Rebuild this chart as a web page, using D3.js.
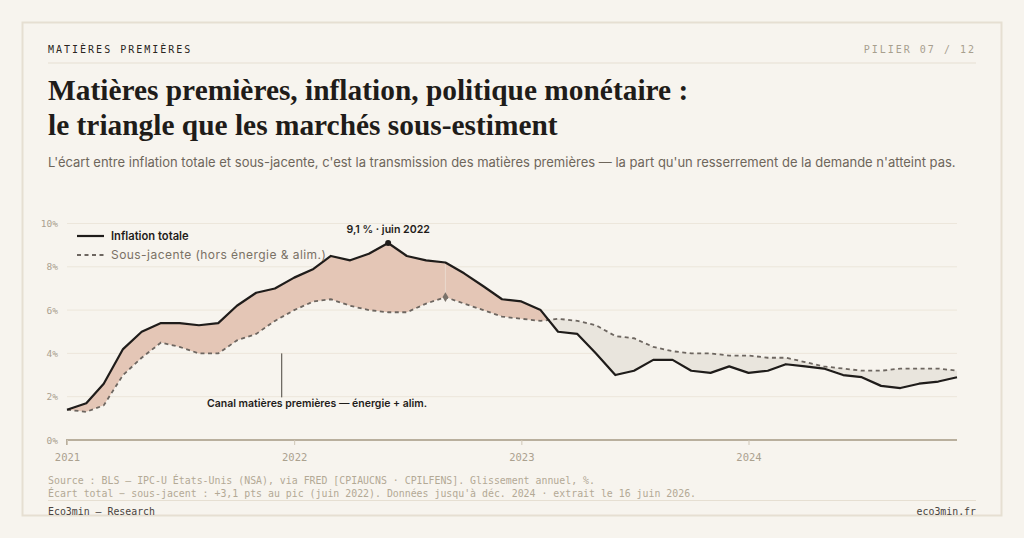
<!DOCTYPE html>
<html>
<head>
<meta charset="utf-8">
<script src="https://cdn.jsdelivr.net/npm/d3@7"></script>
<style>
	html, body { margin: 0; padding: 0; background: #f7f4ee; }
	svg { display: block; }
	.mono { font-family: "DejaVu Sans Mono", "Liberation Mono", monospace; }
	.sans { font-family: Inter, "Noto Sans", sans-serif; }
</style>
</head>
<body>
<svg id="chart"></svg>
<script>
// months, Jan 2021 -> Dec 2024
var months = [
	'2021-01','2021-02','2021-03','2021-04','2021-05','2021-06','2021-07','2021-08','2021-09','2021-10','2021-11','2021-12',
	'2022-01','2022-02','2022-03','2022-04','2022-05','2022-06','2022-07','2022-08','2022-09','2022-10','2022-11','2022-12',
	'2023-01','2023-02','2023-03','2023-04','2023-05','2023-06','2023-07','2023-08','2023-09','2023-10','2023-11','2023-12',
	'2024-01','2024-02','2024-03','2024-04','2024-05','2024-06','2024-07','2024-08','2024-09','2024-10','2024-11','2024-12'
];

// CPI-U headline, YoY %
var totale = [
	1.4, 1.7, 2.6, 4.2, 5.0, 5.4, 5.4, 5.3, 5.4, 6.2, 6.8, 7.0,
	7.5, 7.9, 8.5, 8.3, 8.6, 9.1, 8.5, 8.3, 8.2, 7.7, 7.1, 6.5,
	6.4, 6.0, 5.0, 4.9, 4.0, 3.0, 3.2, 3.7, 3.7, 3.2, 3.1, 3.4,
	3.1, 3.2, 3.5, 3.4, 3.3, 3.0, 2.9, 2.5, 2.4, 2.6, 2.7, 2.9
];

// core (ex food & energy), YoY %
var sousJacente = [
	1.4, 1.3, 1.6, 3.0, 3.8, 4.5, 4.3, 4.0, 4.0, 4.6, 4.9, 5.5,
	6.0, 6.4, 6.5, 6.2, 6.0, 5.9, 5.9, 6.3, 6.6, 6.3, 6.0, 5.7,
	5.6, 5.5, 5.6, 5.5, 5.3, 4.8, 4.7, 4.3, 4.1, 4.0, 4.0, 3.9,
	3.9, 3.8, 3.8, 3.6, 3.4, 3.3, 3.2, 3.2, 3.3, 3.3, 3.3, 3.2
];

var yTicks = [0, 2, 4, 6, 8, 10];
var yearTicks = ['2021', '2022', '2023', '2024'];

var W = 1024, H = 538;
var xLeft = 67, xRight = 957;
var yTop = 223.5, yBase = 440;

var parse = d3.timeParse('%Y-%m');
var data = months.map(function(m, i) {
	return {date: parse(m), tot: totale[i], core: sousJacente[i]};
});

var svg = d3.select('#chart')
	.attr('width', W)
	.attr('height', H);

// card
svg.append('rect')
	.attr('x', 22.5).attr('y', 22.5)
	.attr('width', 979).attr('height', 493)
	.attr('fill', '#f7f4ee')
	.attr('stroke', '#e6dfd2')
	.attr('stroke-width', 2);

// header
svg.append('text')
	.attr('class', 'mono')
	.attr('x', 48).attr('y', 53)
	.attr('font-size', 10)
	.attr('letter-spacing', 2)
	.attr('fill', '#2a2622')
	.text('MATIÈRES PREMIÈRES');
svg.append('text')
	.attr('class', 'mono')
	.attr('x', 976).attr('y', 53)
	.attr('font-size', 10)
	.attr('letter-spacing', 2)
	.attr('text-anchor', 'end')
	.attr('fill', '#a89f8e')
	.text('PILIER 07 / 12');
svg.append('line')
	.attr('x1', 48).attr('x2', 976)
	.attr('y1', 63).attr('y2', 63)
	.attr('stroke', '#e6dfd2');

var title = svg.append('text')
	.attr('font-family', '"Liberation Serif", "DejaVu Serif", serif')
	.attr('font-size', 29.4)
	.attr('font-weight', 700)
	.attr('fill', '#1f1c19');
title.append('tspan').attr('x', 48).attr('y', 100)
	.text('Matières premières, inflation, politique monétaire :');
title.append('tspan').attr('x', 48).attr('y', 135)
	.text('le triangle que les marchés sous-estiment');

svg.append('text')
	.attr('class', 'sans')
	.attr('x', 48).attr('y', 167)
	.attr('font-size', 13)
	.attr('fill', '#6e665b')
	.text("L'écart entre inflation totale et sous-jacente, c'est la transmission des matières premières — la part qu'un resserrement de la demande n'atteint pas.");

// scales
var x = d3.scaleTime()
	.domain([data[0].date, data[data.length - 1].date])
	.range([xLeft, xRight]);
var y = d3.scaleLinear()
	.domain([0, 10])
	.range([yBase, yTop]);

// grid
svg.append('g')
	.selectAll('line')
	.data(yTicks.filter(d => d > 0))
	.enter()
	.append('line')
	.attr('x1', xLeft).attr('x2', xRight)
	.attr('y1', d => y(d)).attr('y2', d => y(d))
	.attr('stroke', '#ece6db')
	.attr('stroke-width', 1);

svg.append('g')
	.selectAll('text')
	.data(yTicks)
	.enter()
	.append('text')
	.attr('class', 'mono')
	.attr('x', 58)
	.attr('y', d => y(d) + 3.5)
	.attr('text-anchor', 'end')
	.attr('font-size', 9.5)
	.attr('fill', '#aba18f')
	.text(d => d + '%');

// difference areas (clip trick)
var defs = svg.append('defs');
defs.append('clipPath').attr('id', 'clip-below')
	.append('path')
	.attr('d', d3.area().x(d => x(d.date)).y0(H).y1(d => y(d.tot))(data));
defs.append('clipPath').attr('id', 'clip-above')
	.append('path')
	.attr('d', d3.area().x(d => x(d.date)).y0(0).y1(d => y(d.tot))(data));

svg.append('path')
	.attr('clip-path', 'url(#clip-below)')
	.attr('fill', '#e4c6b6')
	.attr('d', d3.area().x(d => x(d.date)).y0(d => y(d.core)).y1(0)(data));
svg.append('path')
	.attr('clip-path', 'url(#clip-above)')
	.attr('fill', '#e9e5dd')
	.attr('d', d3.area().x(d => x(d.date)).y0(d => y(d.core)).y1(H)(data));

// axis
var xAxis = d3.axisBottom(x)
	.tickValues(yearTicks.map(d => d3.timeParse('%Y')(d)))
	.tickSize(5)
	.tickFormat(d3.timeFormat('%Y'));

var gx = svg.append('g')
	.attr('transform', `translate(0, ${yBase})`)
	.call(xAxis);
gx.select('.domain')
	.attr('d', `M${xLeft},5V0H${xRight}`)
	.attr('stroke', '#b9af9d')
	.attr('stroke-width', 2);
gx.selectAll('.tick line').attr('stroke', '#cfc6b6');
gx.selectAll('.tick text')
	.attr('class', 'mono')
	.attr('font-size', 10.5)
	.attr('fill', '#aba18f')
	.attr('y', 14);

// lines
var line = function(key) {
	return d3.line().x(d => x(d.date)).y(d => y(d[key]));
};

// faint link at core peak
var corePeak = data[20];
svg.append('line')
	.attr('x1', x(corePeak.date)).attr('x2', x(corePeak.date))
	.attr('y1', y(corePeak.tot) + 2).attr('y2', y(corePeak.core))
	.attr('stroke', '#ead9ce')
	.attr('stroke-width', 1);

svg.append('path')
	.attr('d', line('core')(data))
	.attr('fill', 'none')
	.attr('stroke', '#6d6660')
	.attr('stroke-width', 1.8)
	.attr('stroke-dasharray', '4,3.5');

svg.append('path')
	.attr('d', line('tot')(data))
	.attr('fill', 'none')
	.attr('stroke', '#1f1c1a')
	.attr('stroke-width', 2.2)
	.attr('stroke-linejoin', 'round');

svg.append('path')
	.attr('d', d3.symbol().type(d3.symbolDiamond).size(28)())
	.attr('transform', `translate(${x(corePeak.date)}, ${y(corePeak.core)})`)
	.attr('fill', '#7a726a');

// peak
var peak = data[d3.maxIndex(data, d => d.tot)];
svg.append('circle')
	.attr('cx', x(peak.date))
	.attr('cy', y(peak.tot))
	.attr('r', 3)
	.attr('fill', '#1f1c1a');
svg.append('text')
	.attr('class', 'sans')
	.attr('x', x(peak.date))
	.attr('y', y(peak.tot) - 9.5)
	.attr('text-anchor', 'middle')
	.attr('font-size', 10.6)
	.attr('font-weight', 600)
	.attr('fill', '#1f1c1a')
	.text('9,1 % · juin 2022');

// channel annotation
var annX = x(d3.timeParse('%Y-%m-%d')('2021-12-12'));
svg.append('line')
	.attr('x1', annX).attr('x2', annX)
	.attr('y1', y(4)).attr('y2', y(1.97))
	.attr('stroke', '#4a443e')
	.attr('stroke-width', 1);
svg.append('text')
	.attr('class', 'sans')
	.attr('x', 317)
	.attr('y', 407)
	.attr('text-anchor', 'middle')
	.attr('font-size', 10.5)
	.attr('font-weight', 600)
	.attr('fill', '#1f1c1a')
	.text('Canal matières premières — énergie + alim.');

// legend
var legend = svg.append('g');
legend.append('line')
	.attr('x1', 77).attr('x2', 104).attr('y1', 236).attr('y2', 236)
	.attr('stroke', '#1f1c1a').attr('stroke-width', 2.2);
legend.append('text')
	.attr('class', 'sans')
	.attr('x', 111).attr('y', 240)
	.attr('font-size', 11.2).attr('font-weight', 600)
	.attr('fill', '#1f1c1a')
	.text('Inflation totale');
legend.append('line')
	.attr('x1', 77).attr('x2', 104).attr('y1', 255).attr('y2', 255)
	.attr('stroke', '#6d6660').attr('stroke-width', 1.8)
	.attr('stroke-dasharray', '4,3.5');
legend.append('text')
	.attr('class', 'sans')
	.attr('x', 111).attr('y', 259)
	.attr('font-size', 12)
	.attr('letter-spacing', 0.45)
	.attr('fill', '#7a7165')
	.text('Sous-jacente (hors énergie & alim.)');

// footer
svg.append('text')
	.attr('class', 'mono')
	.attr('x', 48).attr('y', 484)
	.attr('font-size', 9.9)
	.attr('fill', '#b3a995')
	.text('Source : BLS — IPC-U États-Unis (NSA), via FRED [CPIAUCNS · CPILFENS]. Glissement annuel, %.');
svg.append('text')
	.attr('class', 'mono')
	.attr('x', 48).attr('y', 497)
	.attr('font-size', 9.9)
	.attr('fill', '#b3a995')
	.text("Écart total − sous-jacent : +3,1 pts au pic (juin 2022). Données jusqu'à déc. 2024 · extrait le 16 juin 2026.");
svg.append('line')
	.attr('x1', 48).attr('x2', 976)
	.attr('y1', 500.5).attr('y2', 500.5)
	.attr('stroke', '#e6dfd2');
svg.append('text')
	.attr('class', 'mono')
	.attr('x', 48).attr('y', 515)
	.attr('font-size', 9.9)
	.attr('fill', '#4a443e')
	.text('Eco3min — Research');
svg.append('text')
	.attr('class', 'mono')
	.attr('x', 976).attr('y', 515)
	.attr('font-size', 9.9)
	.attr('text-anchor', 'end')
	.attr('fill', '#4a443e')
	.text('eco3min.fr');
</script>
</body>
</html>
